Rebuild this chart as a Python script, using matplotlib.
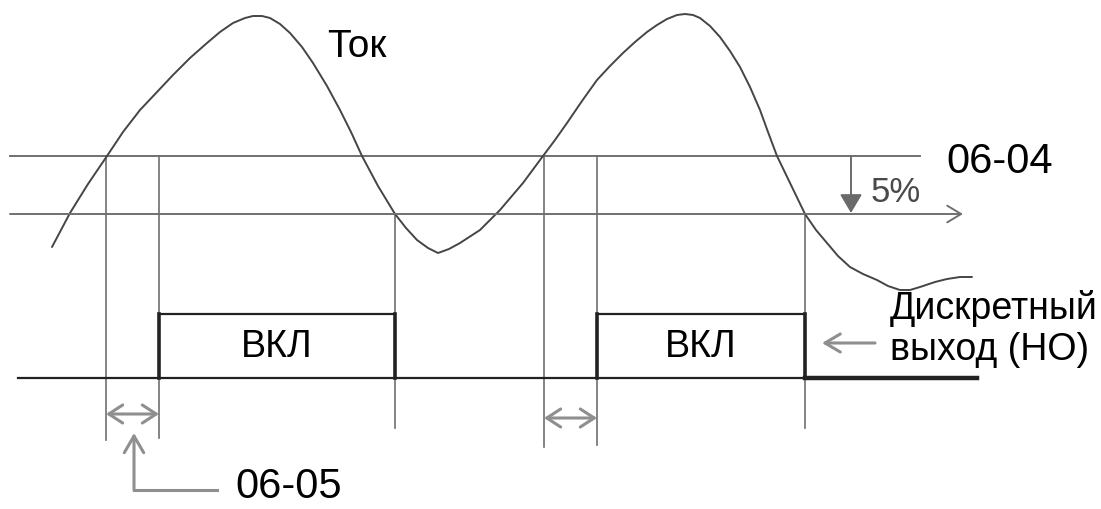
import matplotlib
matplotlib.use("Agg")
import matplotlib.pyplot as plt

plt.rcParams["font.family"] = ["Liberation Sans", "DejaVu Sans"]

# current waveform (pixel coords, y down)
curve_x = [52, 70, 88, 107, 123, 140, 157, 173, 190, 207, 220, 233, 245, 253, 262,
           270, 280, 290, 302, 313, 327, 340, 351, 362, 378, 395, 406, 417, 428, 438,
           449, 460, 480, 500, 523, 543, 555, 567, 582, 597, 610, 623, 635, 647, 657,
           667, 677, 685, 693, 700, 710, 720, 730, 740, 750, 760, 768, 777, 791, 805,
           816, 827, 838, 850, 863, 877, 888, 900, 910, 920, 935, 947, 960, 972]
curve_y = [247, 213, 184, 156, 132, 110, 92, 75, 58, 43, 32, 23, 18, 16, 16,
           18, 24, 33, 47, 63, 86, 110, 132, 156, 186, 214, 228, 240, 248, 253,
           249, 243, 230, 210, 183, 156, 140, 123, 101, 80, 66, 53, 42, 32, 25,
           19, 15, 14, 15, 18, 26, 37, 51, 67, 87, 110, 132, 156, 185, 214,
           230, 243, 256, 267, 274, 280, 286, 290, 290, 287, 282, 279, 277, 277]

level_on = 156      # 06-04
level_off = 214     # 06-04 minus 5 %

# crossings / output edges
cross_on = [106, 544]
out_rise = [159, 597]
out_fall = [395, 805]

out_low = 378
out_high = 314

LINE = "#707070"
ARROW = "#8f8f8f"
TXT = 30

fig = plt.figure(figsize=(11.01, 5.09), dpi=100)
ax = fig.add_axes([0, 0, 1, 1])
ax.set_xlim(0, 1101)
ax.set_ylim(509, 0)
ax.axis("off")

# threshold lines
ax.plot([10, 920], [level_on, level_on], color=LINE, lw=1.4)
ax.annotate("", xy=(963, level_off), xytext=(10, level_off),
            arrowprops=dict(arrowstyle="->,head_length=1.0,head_width=0.6", color=LINE,
                            lw=1.4, shrinkA=0, shrinkB=0, mutation_scale=10))
ax.annotate("", xy=(851, level_off - 1), xytext=(851, level_on),
            arrowprops=dict(arrowstyle="-|>,head_length=1.15,head_width=0.68", color="#6a6a6a",
                            lw=1.4, shrinkA=0, shrinkB=0, mutation_scale=10))

# vertical guides
for xv in cross_on:
    ax.plot([xv, xv], [level_on, 440 if xv < 300 else 447], color=LINE, lw=1.2)
for xv in out_rise:
    ax.plot([xv, xv], [level_on, 438 if xv < 300 else 445], color=LINE, lw=1.2)
for xv in out_fall:
    ax.plot([xv, xv], [level_off, 428], color=LINE, lw=1.2)

# current curve
ax.plot(curve_x, curve_y, color="#454545", lw=1.4, solid_capstyle="round")

# digital output
ax.plot([18, out_fall[1]], [out_low, out_low], color="#222222", lw=1.6)
ax.plot([out_fall[1], 977], [out_low, out_low], color="#222222", lw=3.2)
for r, f in zip(out_rise, out_fall):
    ax.plot([r, f], [out_high, out_high], color="#222222", lw=1.6)
    ax.plot([r, r], [out_low, out_high], color="#222222", lw=2.6)
    ax.plot([f, f], [out_low, out_high], color="#222222", lw=2.6)
    ax.text((r + f) / 2, 347, "ВКЛ", fontsize=27, ha="center", va="center")

# delay arrows (06-05)
for c, r, yy in zip(cross_on, out_rise, [414, 418]):
    ax.annotate("", xy=(r, yy), xytext=(c, yy),
                arrowprops=dict(arrowstyle="<->,head_length=1.0,head_width=0.65", color=ARROW,
                                lw=2.2, shrinkA=0, shrinkB=0, mutation_scale=10))
ax.plot([217, 134], [490, 490], color=ARROW, lw=2.2)
ax.annotate("", xy=(134, 433), xytext=(134, 490),
            arrowprops=dict(arrowstyle="->,head_length=1.2,head_width=0.7", color=ARROW,
                            lw=2.2, shrinkA=0, shrinkB=0, mutation_scale=10))
ax.annotate("", xy=(822, 343), xytext=(875, 343),
            arrowprops=dict(arrowstyle="->,head_length=1.1,head_width=0.65", color=ARROW,
                            lw=2.2, shrinkA=0, shrinkB=0, mutation_scale=10))

# labels
ax.text(327, 57, "Ток", fontsize=28, ha="left", va="baseline")
ax.text(946, 173, "06-04", fontsize=TXT, ha="left", va="baseline")
ax.text(871, 202, "5%", fontsize=25, color="#4a4a4a", ha="left", va="baseline")
ax.text(235, 498, "06-05", fontsize=TXT, ha="left", va="baseline")
ax.text(890, 319, "Дискретный", fontsize=27, ha="left", va="baseline")
ax.text(890, 360, "выход (НО)", fontsize=27, ha="left", va="baseline")

fig.savefig("out.png", dpi=100)
